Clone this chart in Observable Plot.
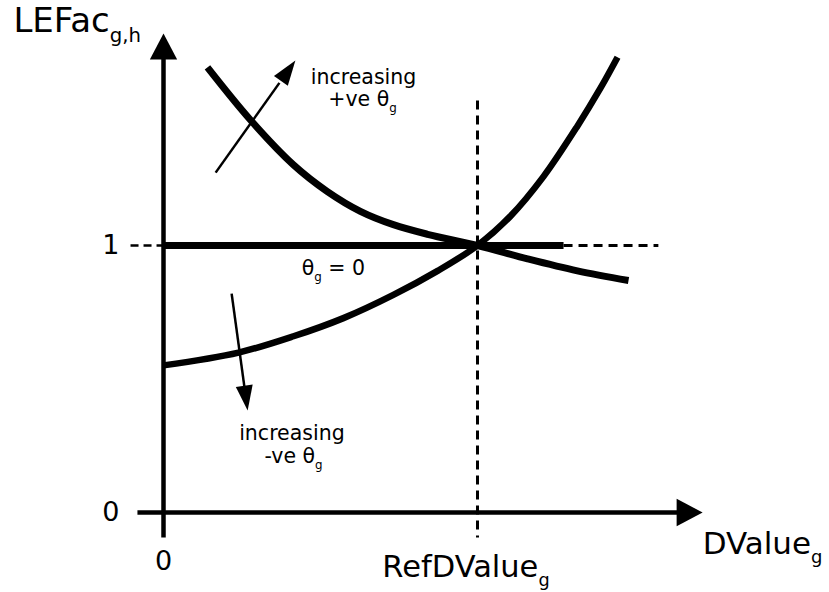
<!DOCTYPE html>
<html>
<head>
<meta charset="utf-8">
<script src="https://cdn.jsdelivr.net/npm/d3@7"></script>
<script src="https://cdn.jsdelivr.net/npm/@observablehq/plot@0.6"></script>
<style>
  html, body { margin: 0; padding: 0; background: #fff; }
  #chart { width: 829px; height: 592px; }
</style>
</head>
<body>
<div id="chart"></div>
<script>
// ---- Data (x in units of RefDValue_g, y = LEFac_g,h) ----
// curve for increasing positive theta (decreasing with DValue)
const posThetaX = [0.140, 0.277, 0.414, 0.522, 0.627, 0.732, 0.841, 1.000, 1.159, 1.318, 1.481];
const posThetaY = [1.667, 1.470, 1.302, 1.202, 1.128, 1.078, 1.042, 1.000, 0.950, 0.905, 0.869];
// curve for increasing negative theta (increasing with DValue)
const negThetaX = [0.000, 0.239, 0.414, 0.573, 0.732, 0.873, 1.000, 1.105, 1.210, 1.318, 1.392, 1.446];
const negThetaY = [0.551, 0.599, 0.660, 0.728, 0.815, 0.905, 1.000, 1.110, 1.258, 1.447, 1.590, 1.705];
// theta = 0 : flat line at 1, then dashed continuation
const zeroThetaX = [0, 1.274];
const zeroThetaY = [1, 1];
const zeroDashX = [1.274, 1.576];
const refDValue = 1;
const refLineY = [-0.094, 1.543];

// axes extents
const xAxisExtent = [-0.083, 1.717];
const yAxisExtent = [-0.094, 1.794];

// tick labels
const yTickValues = [0, 1];
const yTickLabels = ["0", "1"];
const xTickValues = [0];
const xTickLabels = ["0"];

// annotation arrows (tail -> tip)
const arrowTailX = [0.166, 0.217];
const arrowTailY = [1.273, 0.820];
const arrowTipX = [0.420, 0.268];
const arrowTipY = [1.693, 0.382];

// annotation texts
const noteTexts = ["increasing", "+ve θ_{g}", "θ_{g} = 0", "increasing", "-ve θ_{g}"];
const noteX = [0.637, 0.634, 0.541, 0.409, 0.414];
const noteY = [1.603, 1.521, 0.888, 0.270, 0.187];

// ---- Scales (data units -> pixels) ----
const xRange = [163, 477];
const yRange = [512, 245];
const pxX = (xRange[1] - xRange[0]);
const pxY = (yRange[0] - yRange[1]);

const pts = (xs, ys) => xs.map((x, i) => ({x, y: ys[i]}));

const arrowHead = (ratio) => ({
  draw(ctx, size) {
    const L = Math.sqrt(size / Math.PI);
    const w = L * ratio / 2;
    ctx.moveTo(0, 0);
    ctx.lineTo(w, L);
    ctx.lineTo(-w, L);
    ctx.closePath();
  }
});

const arrows = arrowTailX.map((x, i) => {
  const dx = (arrowTipX[i] - x) * pxX;
  const dy = -(arrowTipY[i] - arrowTailY[i]) * pxY;
  return {
    x1: x, y1: arrowTailY[i],
    x2: x + 0.8 * (arrowTipX[i] - x), y2: arrowTailY[i] + 0.8 * (arrowTipY[i] - arrowTailY[i]),
    tx: arrowTipX[i], ty: arrowTipY[i],
    angle: Math.atan2(dx, -dy) * 180 / Math.PI
  };
});

const notes = noteTexts.map((t, i) => ({text: t, x: noteX[i], y: noteY[i]}));

const black = "#000";
const font = "DejaVu Sans";

const chart = Plot.plot({
  width: 829,
  height: 592,
  marginTop: 0, marginRight: 0, marginBottom: 0, marginLeft: 0,
  x: {type: "linear", domain: [0, 1], range: xRange, axis: null},
  y: {type: "linear", domain: [0, 1], range: yRange, axis: null},
  style: {fontFamily: font, background: "#fff", color: black},
  marks: [
    // reference dashed vertical line at RefDValue
    Plot.link([{x: refDValue, y1: refLineY[1], y2: refLineY[0]}], {
      x1: "x", x2: "x", y1: "y1", y2: "y2",
      stroke: black, strokeWidth: 3, strokeDasharray: "9,6", strokeLinecap: "butt"
    }),
    // dashed continuation of theta = 0 line
    Plot.link([{y: 1, x1: zeroDashX[0], x2: zeroDashX[1]}], {
      y1: "y", y2: "y", x1: "x1", x2: "x2",
      stroke: black, strokeWidth: 3, strokeDasharray: "9,6", strokeLinecap: "butt"
    }),
    // y tick at 1 (dashed)
    Plot.link([{y: 1}], {
      y1: "y", y2: "y", x1: () => -0.105, x2: () => 0,
      stroke: black, strokeWidth: 2.5, strokeDasharray: "8,5", strokeLinecap: "butt"
    }),
    // x axis
    Plot.link([{y: 0}], {
      y1: "y", y2: "y", x1: () => xAxisExtent[0], x2: () => xAxisExtent[1] - 0.05,
      stroke: black, strokeWidth: 4.5, strokeLinecap: "butt"
    }),
    // y axis
    Plot.link([{x: 0}], {
      x1: "x", x2: "x", y1: () => yAxisExtent[0], y2: () => yAxisExtent[1] - 0.05,
      stroke: black, strokeWidth: 4.5, strokeLinecap: "butt"
    }),
    // axis arrowheads
    Plot.dot([{x: 0, y: yAxisExtent[1], a: 0}, {x: xAxisExtent[1], y: 0, a: 90}], {
      x: "x", y: "y", rotate: "a", r: 26, symbol: arrowHead(1.05), fill: black, stroke: "none"
    }),
    // theta = 0 line
    Plot.line(pts(zeroThetaX, zeroThetaY), {
      x: "x", y: "y", stroke: black, strokeWidth: 7, strokeLinecap: "butt"
    }),
    // +ve theta curve
    Plot.line(pts(posThetaX, posThetaY), {
      x: "x", y: "y", curve: "catmull-rom", stroke: black, strokeWidth: 7, strokeLinecap: "butt"
    }),
    // -ve theta curve
    Plot.line(pts(negThetaX, negThetaY), {
      x: "x", y: "y", curve: "catmull-rom", stroke: black, strokeWidth: 6.5, strokeLinecap: "butt"
    }),
    // annotation arrows
    Plot.link(arrows, {
      x1: "x1", y1: "y1", x2: "x2", y2: "y2", stroke: black, strokeWidth: 2.5, strokeLinecap: "butt"
    }),
    Plot.dot(arrows, {
      x: "tx", y: "ty", rotate: "angle", r: 25, symbol: arrowHead(0.68), fill: black, stroke: "none"
    }),
    // tick labels
    Plot.text(yTickValues.map((v, i) => ({v, t: yTickLabels[i]})), {
      x: () => -0.14, y: "v", text: "t", textAnchor: "end", lineAnchor: "middle",
      fontSize: 27, fill: black
    }),
    Plot.text(xTickValues.map((v, i) => ({v, t: xTickLabels[i]})), {
      x: "v", y: () => -0.217, text: "t", textAnchor: "middle", lineAnchor: "bottom",
      fontSize: 27, fill: black
    }),
    // axis titles
    Plot.text([{t: "LEFac_{g,h}"}], {
      x: () => -0.478, y: () => 1.798, text: "t", textAnchor: "start", lineAnchor: "bottom",
      fontSize: 34, fill: black
    }),
    Plot.text([{t: "DValue_{g}"}], {
      x: () => 1.717, y: () => -0.154, text: "t", textAnchor: "start", lineAnchor: "bottom",
      fontSize: 31, fill: black
    }),
    Plot.text([{t: "RefDValue_{g}"}], {
      x: () => 0.697, y: () => -0.243, text: "t", textAnchor: "start", lineAnchor: "bottom",
      fontSize: 30.5, fill: black
    }),
    // annotations
    Plot.text(notes, {
      x: "x", y: "y", text: "text", textAnchor: "middle", lineAnchor: "bottom",
      fontSize: 20.5, fill: black
    })
  ]
});

// subscripts: "_{...}" -> tspan
function applySubs(svg) {
  const NS = "http://www.w3.org/2000/svg";
  svg.querySelectorAll("text").forEach(el => {
    if (el.querySelector("tspan")) return;
    const s = el.textContent;
    if (!s.includes("_{")) return;
    el.textContent = "";
    const re = /_\{([^}]*)\}/g;
    let last = 0, m, shifted = false;
    const add = (str, attrs) => {
      const ts = document.createElementNS(NS, "tspan");
      ts.textContent = str;
      for (const k in attrs) ts.setAttribute(k, attrs[k]);
      el.appendChild(ts);
    };
    while ((m = re.exec(s))) {
      if (m.index > last) {
        add(s.slice(last, m.index), shifted ? {dy: "-0.27em"} : {});
        shifted = false;
      }
      add(m[1], {dy: "0.5em", style: "font-size:0.58em"});
      shifted = true;
      last = re.lastIndex;
    }
    if (last < s.length) add(s.slice(last), shifted ? {dy: "-0.29em"} : {});
  });
}
applySubs(chart);
document.getElementById("chart").appendChild(chart);
</script>
</body>
</html>
